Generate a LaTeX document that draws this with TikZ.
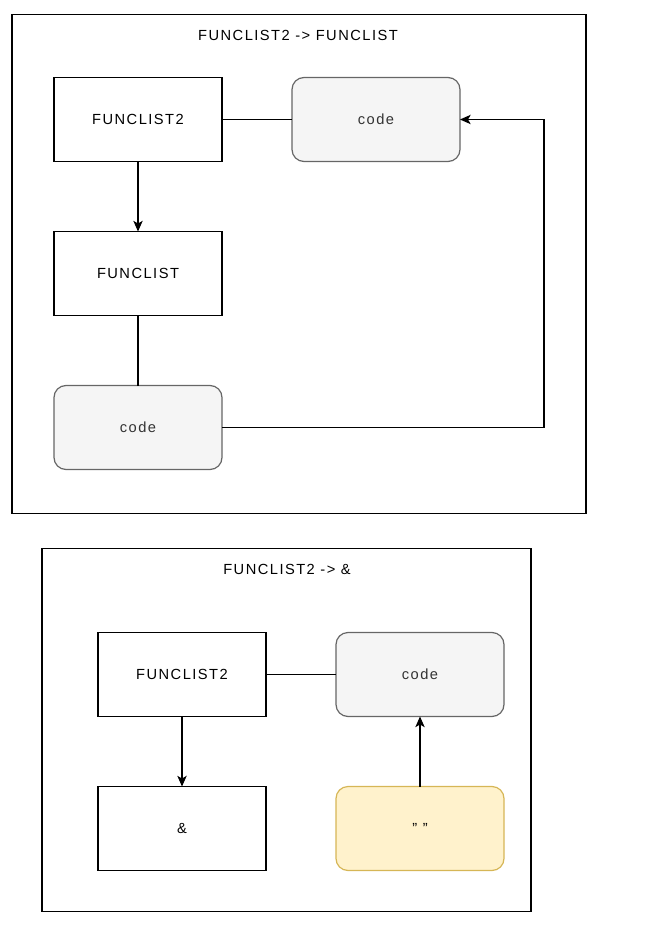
\documentclass[tikz,border=0pt]{standalone}
\usepackage{fontspec}
\setmainfont{Liberation Sans}[LetterSpace=10]
\usetikzlibrary{arrows.meta}
\definecolor{grayfill}{HTML}{F5F5F5}
\definecolor{graystroke}{HTML}{666666}
\definecolor{graytext}{HTML}{333333}
\definecolor{yelfill}{HTML}{FFF2CC}
\definecolor{yelstroke}{HTML}{D6B656}
\begin{document}
\begin{tikzpicture}[x=0.75pt,y=-0.75pt,
  every node/.style={font=\fontsize{11pt}{13pt}\selectfont, inner sep=0pt, outer sep=0pt},
  frame/.style={draw=black, line width=0.9pt, fill=none},
  plainbox/.style={draw=black, line width=0.9pt, minimum width=126pt, minimum height=63pt},
  codebox/.style={draw=graystroke, fill=grayfill, text=graytext, rounded corners=9pt, line width=0.9pt, minimum width=126pt, minimum height=63pt},
  quotebox/.style={draw=yelstroke, fill=yelfill, rounded corners=9pt, line width=0.9pt, minimum width=126pt, minimum height=63pt},
  conn/.style={draw=black, line width=0.9pt},
  arr/.style={conn, -{Stealth[length=8pt,width=7pt,inset=2pt]}}
]
\useasboundingbox (0,0) rectangle (669,934);
% frame 1
\node[frame, minimum width=430.5pt, minimum height=374.25pt] (f1) at (299,264) {};
\node (t1) at (298,35) {FUNCLIST2 -> FUNCLIST};
\node[plainbox] (a1) at (138,119.5) {\raisebox{-1pt}{FUNCLIST2}};
\node[codebox] (c1) at (376,119.5) {\raisebox{-1pt}{code}};
\node[plainbox] (b1) at (138,273.5) {\raisebox{-1pt}{FUNCLIST}};
\node[codebox] (c2) at (138,427.5) {\raisebox{-1pt}{code}};
\coordinate (k1) at (544,427.5);
\coordinate (k2) at (544,119.5);
\draw[conn] (a1.east) -- (c1.west);
\draw[arr] (a1.south) -- (b1.north);
\draw[conn] (b1.south) -- (c2.north);
\draw[arr] (c2.east) -- (k1) -- (k2) -- (c1.east);
% frame 2
\node[frame, minimum width=366.75pt, minimum height=272.25pt] (f2) at (286.5,730) {};
\node (t2) at (287,569) {FUNCLIST2 -> \&};
\node[plainbox] (a2) at (182,674.5) {\raisebox{-1pt}{FUNCLIST2}};
\node[codebox] (c3) at (420,674.5) {\raisebox{-1pt}{code}};
\node[plainbox] (b2) at (182,828.5) {\raisebox{-1pt}{\&}};
\node[quotebox] (q2) at (420,828.5) {\raisebox{-1pt}{" "}};
\draw[conn] (a2.east) -- (c3.west);
\draw[arr] (a2.south) -- (b2.north);
\draw[arr] (q2.north) -- (c3.south);
\end{tikzpicture}
\end{document}
